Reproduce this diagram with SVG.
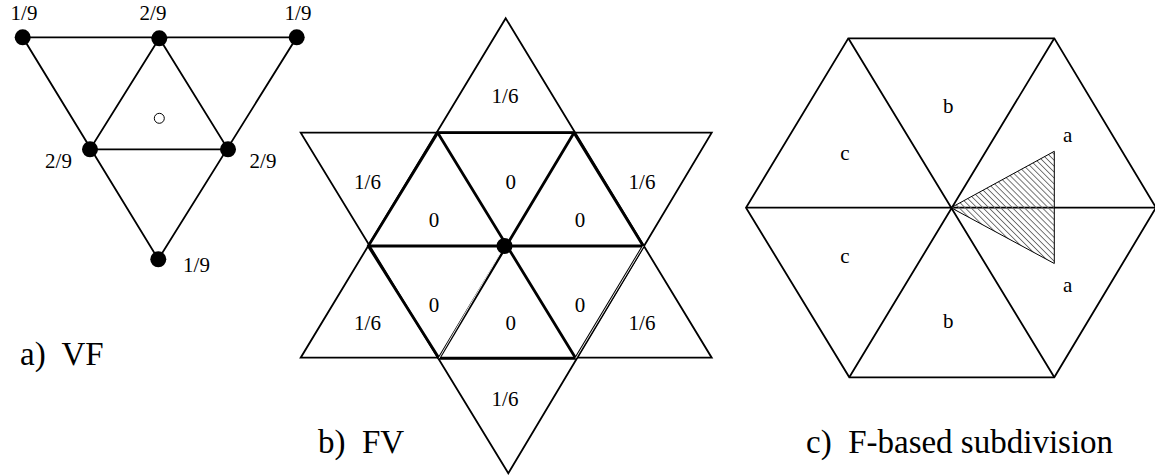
<svg xmlns="http://www.w3.org/2000/svg" width="1155" height="475" viewBox="0 0 1155 475">
<style>
text{font-family:"Liberation Serif","Times New Roman",serif;fill:#000}
.lbl{font-size:21px;text-anchor:middle}
.cap{font-size:33px;white-space:pre}
.thin{stroke:#000;stroke-width:1.8;fill:none;stroke-linejoin:miter}
.bold{stroke:#000;stroke-width:2.8;fill:none}
.dbl{stroke:#fff;stroke-width:0.9;fill:none}
</style>
<defs>
<pattern id="hatch" patternUnits="userSpaceOnUse" width="4.2" height="4.2" patternTransform="rotate(45)">
<line x1="0" y1="2.1" x2="4.2" y2="2.1" stroke="#666" stroke-width="0.9"/>
</pattern>
</defs>
<rect width="1155" height="475" fill="#fff"/>
<g id="connectors">
<g id="a-edges" class="thin">
<path d="M22.7 37.3 L296.7 37.3 L158.3 259.3 Z"/>
<path d="M159.3 38.3 L90 149.3 L228 149.3 Z"/>
</g>
<g id="b-edges">
<path class="thin" d="M505.7 18.3 L300.7 357.7 L711.7 357.7 Z"/>
<path class="thin" d="M508.3 473.3 L300.7 132.7 L711.7 132.7 Z"/>
<path class="bold" d="M437.7 132.7 L574 132.7 L643.3 246 L575.7 358.3 L439 358.3 L368.3 246 Z"/>
<path class="bold" d="M368.3 246 L643.3 246 M437.7 132.7 L575.7 358.3 M574 132.7 L439 358.3"/>
<path class="dbl" d="M504.5 246 L439 358.3 M643.3 246 L575.7 358.3"/>
</g>
<g id="c-edges" class="thin">
<path d="M848.3 38.3 L1054.3 38.3 L1156 207.7 L1054.3 377.3 L849.3 377.3 L746 207.7 Z"/>
<path d="M746 207.7 L1156 207.7 M848.3 38.3 L1054.3 377.3 M1054.3 38.3 L849.3 377.3"/>
</g>
</g>
<g id="a-nodes">
<circle id="a-v1" cx="22.7" cy="37.3" r="8"/>
<circle id="a-v2" cx="159.3" cy="38.3" r="8"/>
<circle id="a-v3" cx="296.7" cy="37.3" r="8"/>
<circle id="a-v4" cx="90" cy="149.3" r="8"/>
<circle id="a-v5" cx="228" cy="149.3" r="8"/>
<circle id="a-v6" cx="158.3" cy="259.3" r="8"/>
<circle id="a-face" cx="159.3" cy="118.3" r="5" fill="#fff" stroke="#000" stroke-width="1"/>
</g>
<g id="a-labels">
<text class="lbl" x="24" y="20">1/9</text>
<text class="lbl" x="153" y="20">2/9</text>
<text class="lbl" x="298" y="20">1/9</text>
<text class="lbl" x="58.5" y="168">2/9</text>
<text class="lbl" x="263" y="168">2/9</text>
<text class="lbl" x="196.5" y="272">1/9</text>
<text class="cap" x="20" y="365">a)  VF</text>
</g>
<g id="b-center">
<circle cx="504.5" cy="246" r="8"/>
</g>
<g id="b-labels">
<text class="lbl" x="505" y="103">1/6</text>
<text class="lbl" x="367.5" y="189">1/6</text>
<text class="lbl" x="510.7" y="189">0</text>
<text class="lbl" x="642" y="189">1/6</text>
<text class="lbl" x="434" y="227">0</text>
<text class="lbl" x="580" y="227">0</text>
<text class="lbl" x="434" y="312">0</text>
<text class="lbl" x="510.7" y="330">0</text>
<text class="lbl" x="580" y="312">0</text>
<text class="lbl" x="367.5" y="330">1/6</text>
<text class="lbl" x="642" y="330">1/6</text>
<text class="lbl" x="505" y="406">1/6</text>
<text class="cap" x="318" y="453">b)  FV</text>
</g>
<g id="c-shaded">
<path d="M951 207.7 L1054.3 151.3 L1054.3 263.5 Z" fill="url(#hatch)" stroke="#000" stroke-width="1"/>
</g>
<g id="c-labels">
<text class="lbl" x="948.3" y="113">b</text>
<text class="lbl" x="1067.7" y="142">a</text>
<text class="lbl" x="845" y="160">c</text>
<text class="lbl" x="845" y="263">c</text>
<text class="lbl" x="1067.7" y="292">a</text>
<text class="lbl" x="948.3" y="328">b</text>
<text class="cap" x="806" y="453">c)  F-based subdivision</text>
</g>
</svg>
